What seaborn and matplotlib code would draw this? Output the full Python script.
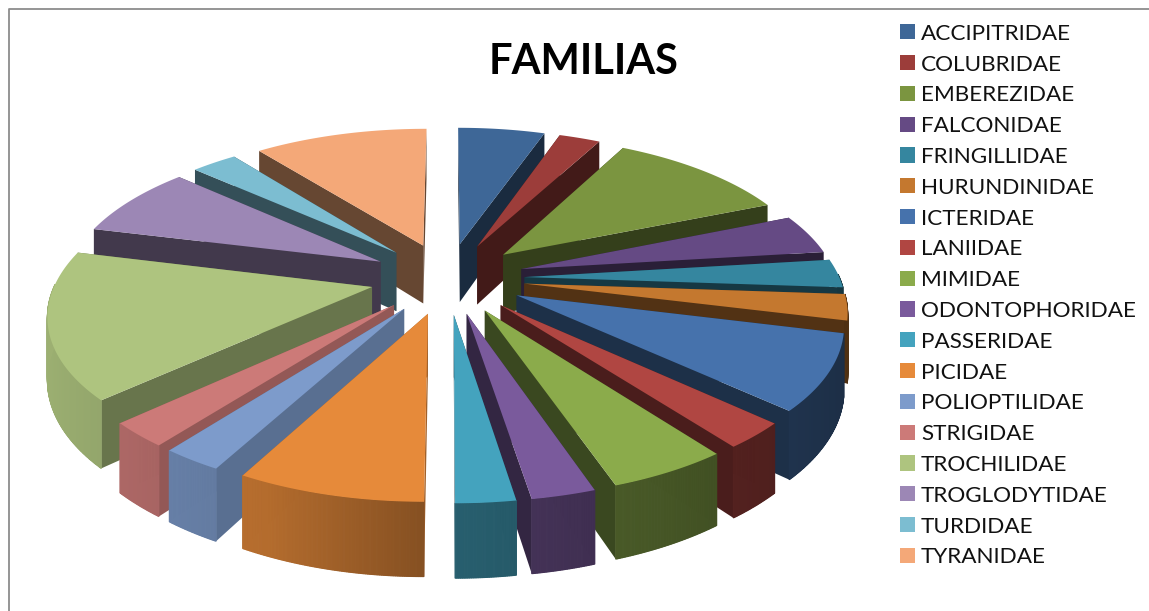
import numpy as np
import pandas as pd
import seaborn as sns
import matplotlib.pyplot as plt
from matplotlib.patches import Polygon, Patch

familias = ["ACCIPITRIDAE", "COLUBRIDAE", "EMBEREZIDAE", "FALCONIDAE", "FRINGILLIDAE",
            "HURUNDINIDAE", "ICTERIDAE", "LANIIDAE", "MIMIDAE", "ODONTOPHORIDAE",
            "PASSERIDAE", "PICIDAE", "POLIOPTILIDAE", "STRIGIDAE", "TROCHILIDAE",
            "TROGLODYTIDAE", "TURDIDAE", "TYRANIDAE"]
porcentajes = [5.28, 2.5, 10.97, 4.31, 3.06, 2.78, 8.06, 2.78, 5.08, 2.69, 2.5, 7.86, 2.56, 2.64,
               15.83, 7.78, 2.78, 10.56]
colores = ["#3E6797", "#9C3D3A", "#7B9540", "#654A84", "#35869F", "#C4782F",
           "#4672AC", "#B04642", "#8BAB4B", "#7A5A9C", "#44A3BE", "#E68A3A",
           "#7D9BCB", "#CC7A78", "#AEC47F", "#9C87B5", "#7CBDD1", "#F4A878"]

# Oblique view of the exploded pie
CX, CY = 447.5, 278.0
A, B, K = 315.0, 145.0, 0.16
EXPLODE = 0.245
DEPTH = 60.0

sns.set_theme(style="white")
plt.rcParams["font.family"] = ["Lato", "DejaVu Sans"]
palette = sns.color_palette(colores)
tabla = pd.DataFrame({"familia": familias, "valor": porcentajes})
total = tabla["valor"].sum()
tabla["fin"] = tabla["valor"].cumsum() / total * 2 * np.pi
tabla["inicio"] = tabla["fin"] - tabla["valor"] / total * 2 * np.pi


def proyectar(x, y, z=0.0):
    s = 1.0 / (1.0 - K * np.asarray(y))
    return np.column_stack([CX + A * np.asarray(x) * s, CY + B * np.asarray(y) * s + z * s])


def oscurecer(color, f):
    return tuple(min(1.0, c * f) for c in color)


def tono_borde(angulo):
    # Rim light comes from the left: bright on the left, dark on the right
    return np.interp(np.sin(angulo), [-1, -0.4, 0, 1], [0.9, 0.78, 0.58, 0.4])


def tono_corte(angulo):
    # Cut faces are brightest on the near-left slices
    return np.interp(np.degrees(angulo), [180, 190, 222, 255, 298, 360],
                     [0.42, 0.7, 0.72, 0.6, 0.42, 0.42])


fig = plt.figure(figsize=(11.49, 6.11), dpi=100, facecolor="white")
ax = fig.add_axes([0, 0, 1, 1])
ax.set_xlim(0, 1149)
ax.set_ylim(611, 0)
ax.axis("off")

# Outer frame of the chart area
ax.plot([9, 9, 1149], [611, 8.5, 8.5], color="#8C8C8C", lw=1.3, zorder=1)

# Far slices are painted first so the near ones cover them
medios = (tabla["inicio"] + tabla["fin"]) / 2
orden = np.argsort(-np.cos(medios.to_numpy()))
z = 2
for i in orden:
    fila = tabla.iloc[i]
    color = palette[i]
    m = (fila["inicio"] + fila["fin"]) / 2
    ox, oy = EXPLODE * np.sin(m), -EXPLODE * np.cos(m)
    t = np.linspace(fila["inicio"], fila["fin"], max(16, int(fila["valor"] * 14)))
    xs, ys = ox + np.sin(t), oy - np.cos(t)
    sup = proyectar(xs, ys)
    inf = proyectar(xs, ys, DEPTH)
    c_sup = proyectar([ox], [oy])[0]
    c_inf = proyectar([ox], [oy], DEPTH)[0]
    # Cut faces towards the pie centre
    for p_sup, p_inf in ((sup[0], inf[0]), (sup[-1], inf[-1])):
        ax.add_patch(Polygon([c_sup, p_sup, p_inf, c_inf], closed=True,
                             fc=oscurecer(color, tono_corte(m)), ec="none", zorder=z))
        z += 1
    # Outer rim, only on the side facing the viewer
    for j in range(len(t) - 1):
        medio = (t[j] + t[j + 1]) / 2
        if np.cos(medio) > 0.02:
            continue
        c = oscurecer(color, tono_borde(medio))
        ax.add_patch(Polygon([sup[j], sup[j + 1], inf[j + 1], inf[j]], closed=True,
                             fc=c, ec=c, lw=0.8, zorder=z))
    z += 1
    ax.add_patch(Polygon(np.vstack([c_sup, sup]), closed=True, fc=color, ec="none", zorder=z))
    z += 1

ax.text(584, 62, "FAMILIAS", ha="center", va="center", fontsize=30, fontweight="bold", color="black")

handles = [Patch(fc=c, ec="none") for c in palette]
ax.legend(handles, familias, loc="upper left", bbox_to_anchor=(893 / 1149, 1 - 17 / 611),
          frameon=False, fontsize=16.2, handlelength=0.667, handleheight=0.667, handletextpad=0.27,
          labelspacing=0.48, borderpad=0.3, borderaxespad=0, labelcolor="#111111")

fig.savefig("out.png", dpi=100)
